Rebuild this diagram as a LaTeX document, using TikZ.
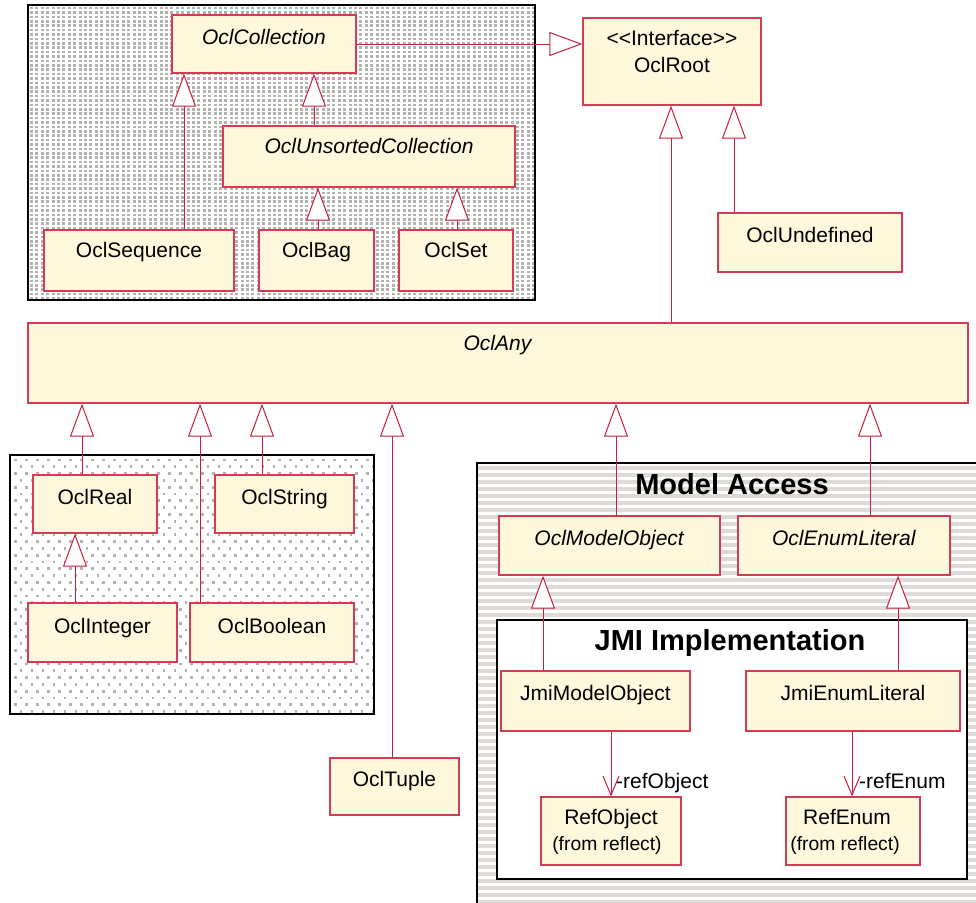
\documentclass[tikz,border=0pt]{standalone}
\usepackage{fontspec}
\setmainfont{Liberation Sans}
\usetikzlibrary{arrows.meta,fit}

\definecolor{umlline}{RGB}{200,30,60}
\definecolor{umlborder}{RGB}{212,60,85}
\definecolor{umlfill}{RGB}{253,248,220}
\definecolor{dotgray}{RGB}{180,178,174}
\definecolor{stripegray}{RGB}{222,219,215}

\newcommand\umlcls[7]{%
  \node[clsbox, fit={(#2,#3) (#4,#5)}] (#1) {};
  \node[clstext] (#1-t) at ({(#2+#4)/2},#6) {#7};
}

\begin{document}
\begin{tikzpicture}[x=1pt,y=-1pt,
  clsbox/.style={draw=umlborder, fill=umlfill, line width=1.3pt, inner sep=0pt},
  clstext/.style={anchor=base, inner sep=0pt, font=\fontsize{21}{25}\selectfont},
  smalltext/.style={anchor=base, inner sep=0pt, font=\fontsize{19.3}{23}\selectfont},
  pkgtitle/.style={anchor=base, inner sep=0pt, font=\bfseries\fontsize{29}{33}\selectfont},
  pkgbox/.style={draw=black, line width=2pt, inner sep=0pt},
  densedots/.style={draw=dotgray, line width=2.6pt, dash pattern=on 3pt off 2.4pt},
  sparsedots/.style={draw=dotgray, line width=2.8pt, dash pattern=on 2.8pt off 8.2pt},
  stripeline/.style={draw=stripegray, line width=3.6pt},
  gen/.style={draw=umlline, line width=1pt, -{Triangle[length=33pt,width=24pt,fill=white]}},
  assoc/.style={draw=umlline, line width=1pt, -{Straight Barb[length=19pt,width=16pt]}},
]
\useasboundingbox (0,0) rectangle (976,902);
\clip (0,0) rectangle (976,902);

% package fills
\begin{scope}
  \clip (28,5) rectangle (535,300);
  \foreach \yy in {8,12.4,...,300} \path[densedots] (30,\yy) -- (535,\yy);
\end{scope}
\begin{scope}
  \clip (10,455) rectangle (374,714);
  \foreach \yy in {460,473.6,...,714} {
    \path[sparsedots] (14,\yy) -- (374,\yy);
    \path[sparsedots] (19.5,\yy+6.8) -- (374,\yy+6.8);
  }
\end{scope}
\begin{scope}
  \clip (477,463) rectangle (995,920);
  \foreach \yy in {468,475,...,910} \path[stripeline] (477,\yy) -- (995,\yy);
\end{scope}

% packages
\node[pkgbox, fit={(28,5) (535,300)}] (pkgcoll) {};
\node[pkgbox, fit={(10,455) (374,714)}] (pkgprim) {};
\node[pkgbox, fit={(477,463) (995,920)}] (pkgmodel) {};
\node[pkgtitle] (pkgmodel-t) at (732,494) {Model Access};
\node[pkgbox, fill=white, fit={(497,620) (967,879)}] (pkgjmi) {};
\node[pkgtitle] (pkgjmi-t) at (730,650) {JMI Implementation};

% classes
\umlcls{coll}{172}{15}{356}{73}{44}{\textit{OclCollection}}
\node[clsbox, fit={(583,18) (761,105)}] (root) {};
\node[clstext] (root-t1) at (672,45) {<{}<Interface>{}>};
\node[clstext] (root-t2) at (672,72) {OclRoot};
\umlcls{unsorted}{223}{126}{515}{187}{153}{\textit{OclUnsortedCollection}}
\umlcls{seq}{44}{230}{234}{291}{257}{OclSequence}
\umlcls{bag}{259}{230}{374}{291}{257}{OclBag}
\umlcls{set}{399}{230}{513}{291}{257}{OclSet}
\umlcls{undef}{718}{213}{902}{272}{242}{OclUndefined}
\umlcls{any}{28}{323}{968}{403}{350}{\textit{OclAny}}
\umlcls{real}{33}{475}{157}{533}{504}{OclReal}
\umlcls{string}{215}{475}{354}{533}{504}{OclString}
\umlcls{integer}{28}{603}{177}{662}{633}{OclInteger}
\umlcls{boolean}{190}{603}{354}{662}{633}{OclBoolean}
\umlcls{tuple}{330}{758}{459}{815}{786}{OclTuple}
\umlcls{mobj}{499}{516}{720}{575}{545}{\textit{OclModelObject}}
\umlcls{enumlit}{738}{516}{950}{575}{545}{\textit{OclEnumLiteral}}
\umlcls{jmo}{501}{671}{690}{731}{700}{JmiModelObject}
\umlcls{jel}{746}{671}{960}{731}{700}{JmiEnumLiteral}
\node[clsbox, fit={(541,797) (681,865)}] (refobj) {};
\node[clstext] (refobj-t1) at (611,824) {RefObject};
\node[smalltext] (refobj-t2) at (607,850) {(from reflect)};
\node[clsbox, fit={(786,797) (920,865)}] (refenum) {};
\node[clstext] (refenum-t1) at (847,824) {RefEnum};
\node[smalltext] (refenum-t2) at (845,850) {(from reflect)};

% generalizations
\draw[gen] (coll.east) -- (root.west |- coll.east);
\draw[gen] (any.north -| 671,0) -- (root.south -| 671,0);
\draw[gen] (undef.north -| 734,0) -- (root.south -| 734,0);
\draw[gen] (unsorted.north -| 314,0) -- (coll.south -| 314,0);
\draw[gen] (seq.north -| 184,0) -- (coll.south -| 184,0);
\draw[gen] (bag.north -| 318,0) -- (unsorted.south -| 318,0);
\draw[gen] (set.north -| 457,0) -- (unsorted.south -| 457,0);
\draw[gen] (real.north -| 82,0) -- (any.south -| 82,0);
\draw[gen] (boolean.north -| 200,0) -- (any.south -| 200,0);
\draw[gen] (string.north -| 262,0) -- (any.south -| 262,0);
\draw[gen] (tuple.north -| 392,0) -- (any.south -| 392,0);
\draw[gen] (mobj.north -| 616,0) -- (any.south -| 616,0);
\draw[gen] (enumlit.north -| 870,0) -- (any.south -| 870,0);
\draw[gen] (integer.north -| 75,0) -- (real.south -| 75,0);
\draw[gen] (jmo.north -| 543,0) -- (mobj.south -| 543,0);
\draw[gen] (jel.north -| 898,0) -- (enumlit.south -| 898,0);

% associations
\draw[assoc] (jmo.south -| 611,0) -- (refobj.north -| 611,0);
\node[clstext, anchor=base west] (lblobj) at (616,788) {-refObject};
\draw[assoc] (jel.south -| 852,0) -- (refenum.north -| 852,0);
\node[clstext, anchor=base west] (lblenum) at (859,788) {-refEnum};
\end{tikzpicture}
\end{document}
